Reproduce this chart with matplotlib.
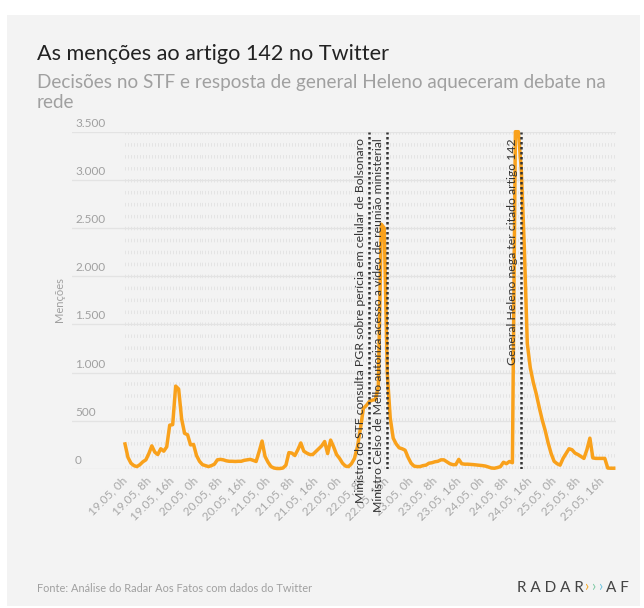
import numpy as np
import matplotlib.pyplot as plt
import matplotlib.transforms as mtransforms
from matplotlib.patches import Rectangle

plt.rcParams['font.family'] = ['Lato', 'DejaVu Sans']

# hourly mentions, starting 19.05 0h
mentions = [
    260, 120, 60, 35, 25, 45, 75, 95, 160, 240,
    175, 150, 210, 185, 230, 455, 460, 860, 830, 520,
    370, 355, 250, 255, 140, 80, 45, 35, 25, 35,
    50, 95, 100, 95, 85, 80, 80, 78, 80, 80,
    90, 95, 100, 90, 78, 180, 290, 130, 70, 25,
    10, 5, 5, 10, 40, 170, 165, 140, 200, 270,
    185, 165, 150, 150, 180, 210, 240, 285, 160, 300,
    230, 150, 110, 60, 30, 25, 55, 110, 230, 420,
    630, 660, 700, 715, 720, 850, 2540, 2500, 1000, 530,
    320, 260, 220, 210, 195, 120, 60, 30, 25, 25,
    35, 40, 60, 65, 75, 80, 95, 95, 75, 55,
    45, 45, 100, 55, 50, 50, 48, 45, 42, 38,
    35, 30, 20, 10, 8, 15, 25, 70, 55, 78,
    65, 3500, 3500, 3100, 2300, 1300, 1050, 900, 780, 640,
    510, 400, 270, 160, 80, 55, 40, 110, 160, 210,
    200, 165, 150, 130, 110, 200, 320, 115, 110, 110,
    110, 110, 10, 8, 8,
]
hours = np.arange(len(mentions))

tick_hours = np.arange(0, 161, 8)
tick_labels = [
    '19.05, 0h', '19.05, 8h', '19.05, 16h',
    '20.05, 0h', '20.05, 8h', '20.05, 16h',
    '21.05, 0h', '21.05, 8h', '21.05, 16h',
    '22.05, 0h', '22.05, 8h', '22.05, 16h',
    '23.05, 0h', '23.05, 8h', '23.05, 16h',
    '24.05, 0h', '24.05, 8h', '24.05, 16h',
    '25.05, 0h', '25.05, 8h', '25.05, 16h',
]
y_ticks = [0, 500, 1000, 1500, 2000, 2500, 3000, 3500]
y_labels = ['0', '500', '1.000', '1.500', '2.000', '2.500', '3.000', '3.500']

event_hours = [82, 88, 133]
event_texts = [
    'Ministro do STF consulta PGR sobre perícia em celular de Bolsonaro',
    'Ministro Celso de Mello autoriza acesso a vídeo de reunião ministerial',
    'General Heleno nega ter citado artigo 142',
]

W, H = 644, 608
fig = plt.figure(figsize=(W / 100, H / 100), dpi=100)
fig.patch.set_facecolor('white')
fig.patches.append(Rectangle((7 / W, 2 / H), 633 / W, 591 / H, transform=fig.transFigure,
                             facecolor='#f3f3f3', edgecolor='none', zorder=-10))

ax = fig.add_axes([72 / W, (H - 469) / H, (616 - 72) / W, (469 - 131.7) / H])
ax.set_facecolor('none')
for s in ax.spines.values():
    s.set_visible(False)
ax.set_xlim(-(125 - 72) / 2.98, (616 - 125) / 2.98)
ax.set_ylim(0, 3500)

# grid: solid horizontal lines, dashed hourly verticals
for v in y_ticks:
    ax.axhline(v, color='#e3e3e3', lw=0.9, zorder=0)
ax.vlines(hours, 0, 3500, colors='#e4e4e4', lw=0.7, linestyles=(0, (3.6, 8.7)), zorder=0)

ylab_tr = mtransforms.offset_copy(ax.get_yaxis_transform(), fig=fig, x=3, y=3, units='dots')
for v, lab in zip(y_ticks, y_labels):
    ax.text(0, v, lab, transform=ylab_tr, ha='left', va='bottom', fontsize=8.5, color='#a0a0a0')
ax.set_yticks([])

ax.plot(hours, mentions, color='#f9a11b', lw=2.5, zorder=3, clip_on=False)

ax.vlines(event_hours, 0, 3500, colors='#333333', lw=1.8, linestyles=(0, (1, 1)), zorder=4)
for e, txt in zip(event_hours, event_texts):
    ax.annotate(txt, xy=(e, 3434), xytext=(-2.5, 0), textcoords='offset points',
                rotation=90, ha='right', va='top', fontsize=8.8, color='#333333',
                annotation_clip=False, zorder=5)

ax.set_xticks(tick_hours)
ax.set_xticklabels(tick_labels, rotation=45, ha='right', va='center',
                   rotation_mode='anchor', fontsize=8.5, color='#a8a8a8')
ax.tick_params(axis='x', length=0, pad=7)

fig.text(60 / W, 1 - 300 / H, 'Menções', rotation=90, ha='center', va='center',
         fontsize=8, color='#a0a0a0')

fig.text(37 / W, 1 - 60 / H, 'As menções ao artigo 142 no Twitter', fontsize=15.6,
         color='#222222', va='baseline')
fig.text(37 / W, 1 - 88 / H, 'Decisões no STF e resposta de general Heleno aqueceram debate na',
         fontsize=13.6, color='#a0a0a0', va='baseline')
fig.text(37 / W, 1 - 108 / H, 'rede', fontsize=13.6, color='#a0a0a0', va='baseline')

fig.text(37 / W, 1 - 592 / H, 'Fonte: Análise do Radar Aos Fatos com dados do Twitter',
         fontsize=7.9, color='#a0a0a0', va='baseline')

# logo
fig.text(517 / W, 1 - 592 / H, 'R A D A R', fontsize=11, color='#444444', va='baseline')
for i, c in enumerate(['#f5a623', '#7cc9a3', '#6cc5e0']):
    fig.text((584 + i * 7) / W, 1 - 591 / H, '›', fontsize=11, color=c, va='baseline')
fig.text(606 / W, 1 - 592 / H, 'A F', fontsize=11, color='#444444', va='baseline')

fig.savefig('out.png', dpi=100)
